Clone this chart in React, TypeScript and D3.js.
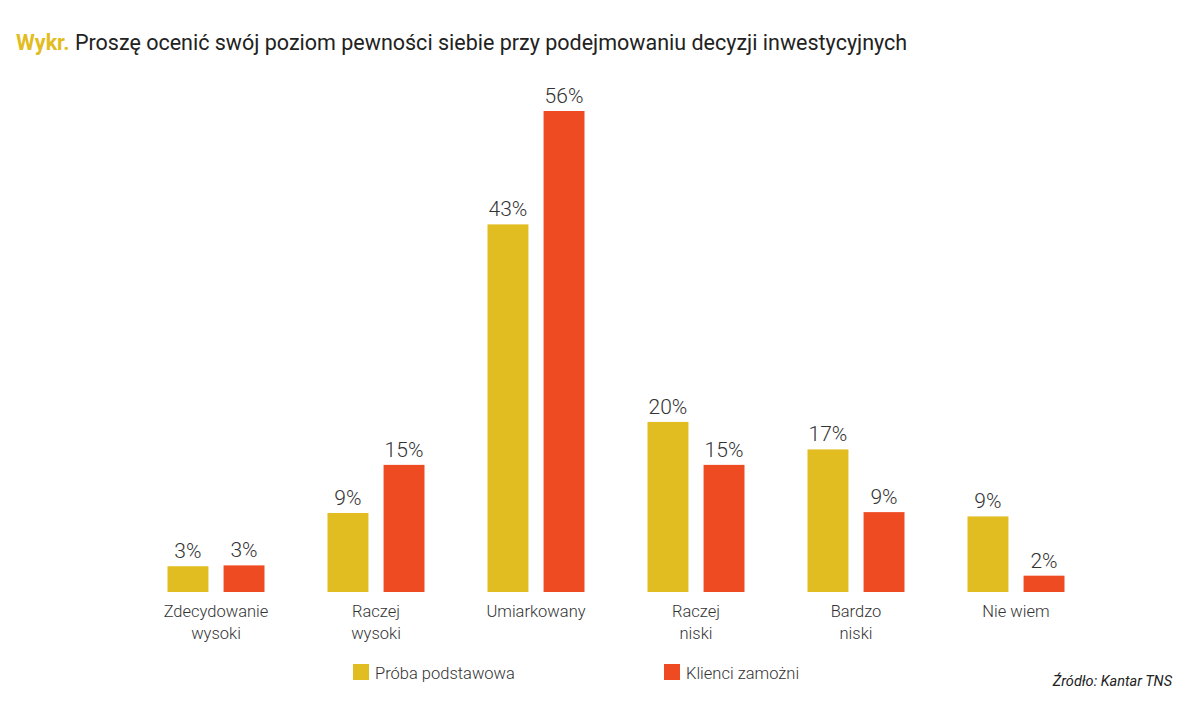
import { useEffect, useRef } from "react";
import * as d3 from "d3";

const categories = [
  ["Zdecydowanie", "wysoki"],
  ["Raczej", "wysoki"],
  ["Umiarkowany"],
  ["Raczej", "niski"],
  ["Bardzo", "niski"],
  ["Nie wiem"],
];
const seriesNames = ["Próba podstawowa", "Klienci zamożni"];
const basicSample = [3.0, 9.2, 42.8, 19.8, 16.6, 8.8];
const wealthyClients = [3.1, 14.8, 56, 14.8, 9.3, 1.9];
const colors = ["#e2bd22", "#ef4b23"];

export default function App() {
  const svgRef = useRef<SVGSVGElement | null>(null);

  useEffect(() => {
    if (!svgRef.current) return;
    const width = 1188;
    const height = 720;
    const font = "Roboto, sans-serif";
    const lightFont = "'Roboto Light', Roboto, sans-serif";

    const svg = d3.select(svgRef.current);
    svg.selectAll("*").remove();
    svg.attr("width", width).attr("height", height).style("display", "block");

    svg.append("rect").attr("width", width).attr("height", height).attr("fill", "#fff");

    const title = svg.append("text")
      .attr("x", 16)
      .attr("y", 50)
      .attr("font-family", font)
      .attr("font-size", 21.5)
      .attr("fill", "#222");
    title.append("tspan").attr("font-weight", 700).attr("fill", colors[0]).text("Wykr.");
    title.append("tspan").text(" Proszę ocenić swój poziom pewności siebie przy podejmowaniu decyzji inwestycyjnych");

    const keys = categories.map(c => c.join(" "));
    const x = d3.scaleBand<string>().domain(keys).range([136, 1096]).padding(0);
    const inner = d3.scaleBand<number>().domain([0, 1]).range([-48.5, 48.5]).paddingInner(0.27);
    const y = d3.scaleLinear().domain([0, 56]).range([592, 111]);

    const series = [basicSample, wealthyClients];
    series.forEach((vals, si) => {
      const g = svg.append("g");
      vals.forEach((v, i) => {
        const cx = x(keys[i])! + x.bandwidth() / 2;
        const bx = cx + inner(si)!;
        g.append("rect")
          .attr("x", bx)
          .attr("y", y(v))
          .attr("width", inner.bandwidth())
          .attr("height", y(0) - y(v))
          .attr("fill", colors[si]);
        g.append("text")
          .attr("x", bx + inner.bandwidth() / 2)
          .attr("y", y(v) - 8)
          .attr("text-anchor", "middle")
          .attr("font-family", lightFont)
          .attr("font-weight", 300)
          .attr("font-size", 21)
          .attr("fill", "#333")
          .text(`${Math.round(v)}%`);
      });
    });

    categories.forEach((lines, i) => {
      const cx = x(keys[i])! + x.bandwidth() / 2;
      const t = svg.append("text")
        .attr("text-anchor", "middle")
        .attr("font-family", lightFont)
        .attr("font-weight", 300)
        .attr("font-size", 16.5)
        .attr("fill", "#333");
      lines.forEach((ln, j) => {
        t.append("tspan").attr("x", cx).attr("y", 617 + j * 22).text(ln);
      });
    });

    const legendX = [353, 664];
    seriesNames.forEach((name, i) => {
      svg.append("rect")
        .attr("x", legendX[i])
        .attr("y", 664)
        .attr("width", 16)
        .attr("height", 16)
        .attr("fill", colors[i]);
      svg.append("text")
        .attr("x", legendX[i] + 22)
        .attr("y", 679)
        .attr("font-family", lightFont)
        .attr("font-weight", 300)
        .attr("font-size", 16.5)
        .attr("fill", "#333")
        .text(name);
    });

    svg.append("text")
      .attr("x", 1172)
      .attr("y", 686)
      .attr("text-anchor", "end")
      .attr("font-family", font)
      .attr("font-style", "italic")
      .attr("font-size", 14.5)
      .attr("fill", "#222")
      .text("Źródło: Kantar TNS");
  }, []);

  return <svg ref={svgRef} style={{ position: "absolute", left: 0, top: 0 }} />;
}
